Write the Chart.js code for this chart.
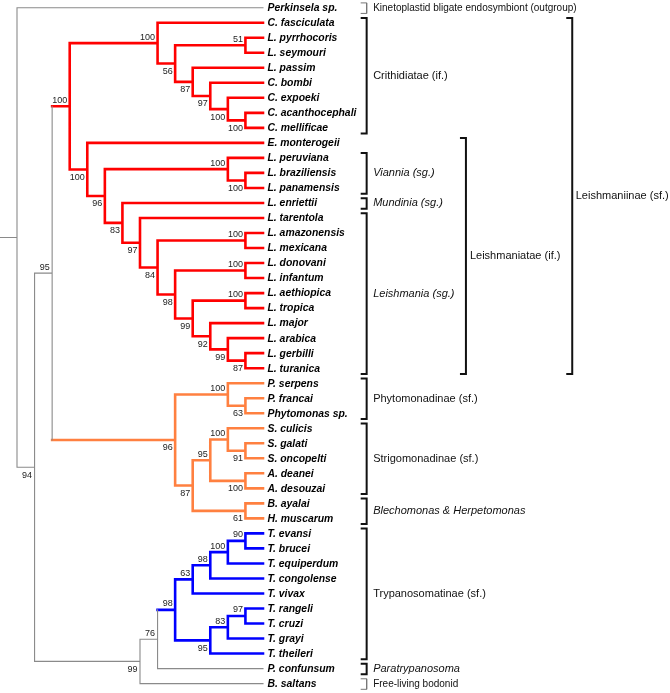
<!DOCTYPE html>
<html><head><meta charset="utf-8">
<script src="https://cdn.jsdelivr.net/npm/chart.js@4/dist/chart.umd.min.js"></script>
<style>html,body{margin:0;padding:0;background:#fff}canvas{display:block}</style>
</head><body>
<canvas id="c" width="670" height="693"></canvas>
<script>
// ---------- DATA ----------
// Topology (Newick pieces) with bootstrap support after each closing parenthesis
const crithidiatae = "(C. fasciculata,((L. pyrrhocoris,L. seymouri)51,(L. passim,(C. bombi,(C. expoeki,(C. acanthocephali,C. mellificae)100)100)97)87)56)100";
const leishmaniatae = "(E. monterogeii,((L. peruviana,(L. braziliensis,L. panamensis)100)100,(L. enriettii,(L. tarentola,((L. amazonensis,L. mexicana)100,((L. donovani,L. infantum)100,((L. aethiopica,L. tropica)100,(L. major,(L. arabica,(L. gerbilli,L. turanica)87)99)92)99)98)84)97)83)96)100";
const phytoStrigo = "((P. serpens,(P. francai,Phytomonas sp.)63)100,(((S. culicis,(S. galati,S. oncopelti)91)100,(A. deanei,A. desouzai)100)95,(B. ayalai,H. muscarum)61)87)96";
const trypanosomatinae = "(((((T. evansi,T. brucei)90,T. equiperdum)100,T. congolense)98,T. vivax)63,(((T. rangeli,T. cruzi)97,T. grayi)83,T. theileri)95)98";
const newickTree = "(Perkinsela sp.,(((" + crithidiatae + "," + leishmaniatae + ")100," + phytoStrigo + ")95,((" + trypanosomatinae + ",P. confunsum)76,B. saltans)99)94)";

// Coloured clades: first taxon, last taxon, colour
const colourFirst = ["C. fasciculata", "P. serpens", "T. evansi"];
const colourLast  = ["L. turanica", "H. muscarum", "T. theileri"];
const colourValue = ["#ff0000", "#ff8040", "#0000ff"];

// Bracket annotations (leaf index range, column)
const cladeNames  = ["Kinetoplastid bligate endosymbiont (outgroup)", "Crithidiatae (if.)", "Viannia (sg.)", "Mundinia (sg.)", "Leishmania (sg.)", "Phytomonadinae (sf.)", "Strigomonadinae (sf.)", "Blechomonas & Herpetomonas", "Trypanosomatinae (sf.)", "Paratrypanosoma", "Free-living bodonid", "Leishmaniatae (if.)", "Leishmaniinae (sf.)"];
const cladeFirst  = [0, 1, 10, 13, 14, 25, 28, 33, 35, 44, 45, 9, 1];
const cladeLast   = [0, 8, 12, 13, 24, 27, 32, 34, 43, 44, 45, 24, 24];
const cladeItalic = [0, 0, 1, 1, 1, 0, 0, 1, 0, 1, 0, 0, 0];
const cladeColumn = [0, 0, 0, 0, 0, 0, 0, 0, 0, 0, 0, 1, 2];
const cladeThin   = [1, 0, 0, 0, 0, 0, 0, 0, 0, 0, 1, 0, 0];

// ---------- STYLE ----------
const GRAY = "#8a8a8a";
const FONT = '"Liberation Sans", Arial, sans-serif';
const X_MIN = -0.9675, X_MAX = 37.164;   // depth-level units
const Y_MIN = -0.513, Y_MAX = 45.626;    // leaf-row units
const COLS = [19.90, 25.55, 31.60];      // bracket columns (level units)
const COL_TEXT_OFF = [6.5, 4, 3.5];      // px
const TICK = 0.34;

// ---------- BUILD ----------
function parseNewick(s) {
  let i = 0;
  function label() { let t = ""; while (i < s.length && !",();".includes(s[i])) t += s[i++]; return t.trim(); }
  function node() {
    if (s[i] === "(") {
      i++;
      const children = [node()];
      while (s[i] === ",") { i++; children.push(node()); }
      i++;
      return { children, support: label() };
    }
    return { name: label() };
  }
  return node();
}
const root = parseNewick(newickTree);
const leaves = [];
function layout(n) {
  if (!n.children) { n.y = leaves.length; leaves.push(n); n.h = 0; n.firstName = n.lastName = n.name; return; }
  n.children.forEach(c => { c.parent = n; layout(c); });
  const a = n.children[0], b = n.children[n.children.length - 1];
  n.h = 1 + Math.max(...n.children.map(c => c.h));
  n.y = (a.y + b.y) / 2;
  n.firstName = a.firstName; n.lastName = b.lastName;
}
layout(root);
const H = root.h;
function place(n, inherited) {
  n.x = H - n.h;
  let col = inherited;
  colourFirst.forEach((f, k) => { if (n.firstName === f && n.lastName === colourLast[k]) col = colourValue[k]; });
  n.color = col || GRAY;
  if (n.children) n.children.forEach(c => place(c, col));
}
place(root, null);

const segs = {};
function addSeg(color, x1, y1, x2, y2) {
  (segs[color] = segs[color] || []).push({ x: x1, y: y1 }, { x: x2, y: y2 }, { x: NaN, y: NaN });
}
const supports = [];
(function walk(n) {
  if (n.parent) addSeg(n.color, n.parent.x, n.y, n.x, n.y);
  else addSeg(n.color, n.x - 1, n.y, n.x, n.y);
  if (n.children) {
    addSeg(n.color, n.x, n.children[0].y, n.x, n.children[n.children.length - 1].y);
    if (n.support && n.parent) supports.push({ text: n.support, x: n.x, y: n.y, above: n.parent.children[0] === n });
    n.children.forEach(walk);
  }
})(root);

const datasets = [];
const order = [GRAY, ...colourValue];
order.forEach(c => {
  if (!segs[c]) return;
  datasets.push({ data: segs[c], showLine: true, borderColor: c, borderWidth: c === GRAY ? 1.1 : 2.6,
    pointRadius: 0, pointHoverRadius: 0, borderCapStyle: "square", borderJoinStyle: "miter" });
});
// brackets
const brThick = [], brThin = [];
cladeNames.forEach((nm, k) => {
  const x = COLS[cladeColumn[k]], y1 = cladeFirst[k] - 0.32, y2 = cladeLast[k] + 0.38;
  const arr = cladeThin[k] ? brThin : brThick;
  arr.push({ x: x - TICK, y: y1 }, { x: x, y: y1 }, { x: x, y: y2 }, { x: x - TICK, y: y2 }, { x: NaN, y: NaN });
});
datasets.push({ data: brThick, showLine: true, borderColor: "#111", borderWidth: 2, pointRadius: 0, borderCapStyle: "butt", borderJoinStyle: "miter" });
datasets.push({ data: brThin, showLine: true, borderColor: "#777", borderWidth: 1, pointRadius: 0, borderCapStyle: "butt", borderJoinStyle: "miter" });

const textPlugin = {
  id: "treeText",
  afterDatasetsDraw(chart) {
    const ctx = chart.ctx, xs = chart.scales.x, ys = chart.scales.y;
    ctx.save();
    ctx.textBaseline = "middle";
    // taxa
    ctx.fillStyle = "#000";
    ctx.textAlign = "left";
    ctx.font = "italic bold 10.4px " + FONT;
    const tipX = xs.getPixelForValue(H) + 4.5;
    leaves.forEach(l => ctx.fillText(l.name, tipX, ys.getPixelForValue(l.y) + 0.5));
    // supports
    ctx.fillStyle = "#222";
    ctx.textAlign = "right";
    ctx.font = "9px " + FONT;
    supports.forEach(s => {
      ctx.fillText(s.text, xs.getPixelForValue(s.x) - 2.5, ys.getPixelForValue(s.y) + (s.above ? -6 : 8));
    });
    // clade labels
    ctx.textAlign = "left";
    ctx.fillStyle = "#111";
    cladeNames.forEach((nm, k) => {
      const size = cladeThin[k] ? 10 : 11;
      ctx.font = (cladeItalic[k] ? "italic " : "") + size + "px " + FONT;
      const x = xs.getPixelForValue(COLS[cladeColumn[k]]) + COL_TEXT_OFF[cladeColumn[k]];
      const y = ys.getPixelForValue((cladeFirst[k] + cladeLast[k]) / 2 + 0.03);
      ctx.fillText(nm, x, y);
    });
    ctx.restore();
  }
};

new Chart(document.getElementById("c"), {
  type: "scatter",
  data: { datasets },
  options: {
    responsive: false, animation: false, events: [], devicePixelRatio: 1,
    layout: { padding: 0 },
    plugins: { legend: { display: false }, tooltip: { enabled: false }, title: { display: false } },
    scales: {
      x: { type: "linear", display: false, min: X_MIN, max: X_MAX },
      y: { type: "linear", display: false, reverse: true, min: Y_MIN, max: Y_MAX }
    }
  },
  plugins: [textPlugin]
});
</script>
</body></html>
